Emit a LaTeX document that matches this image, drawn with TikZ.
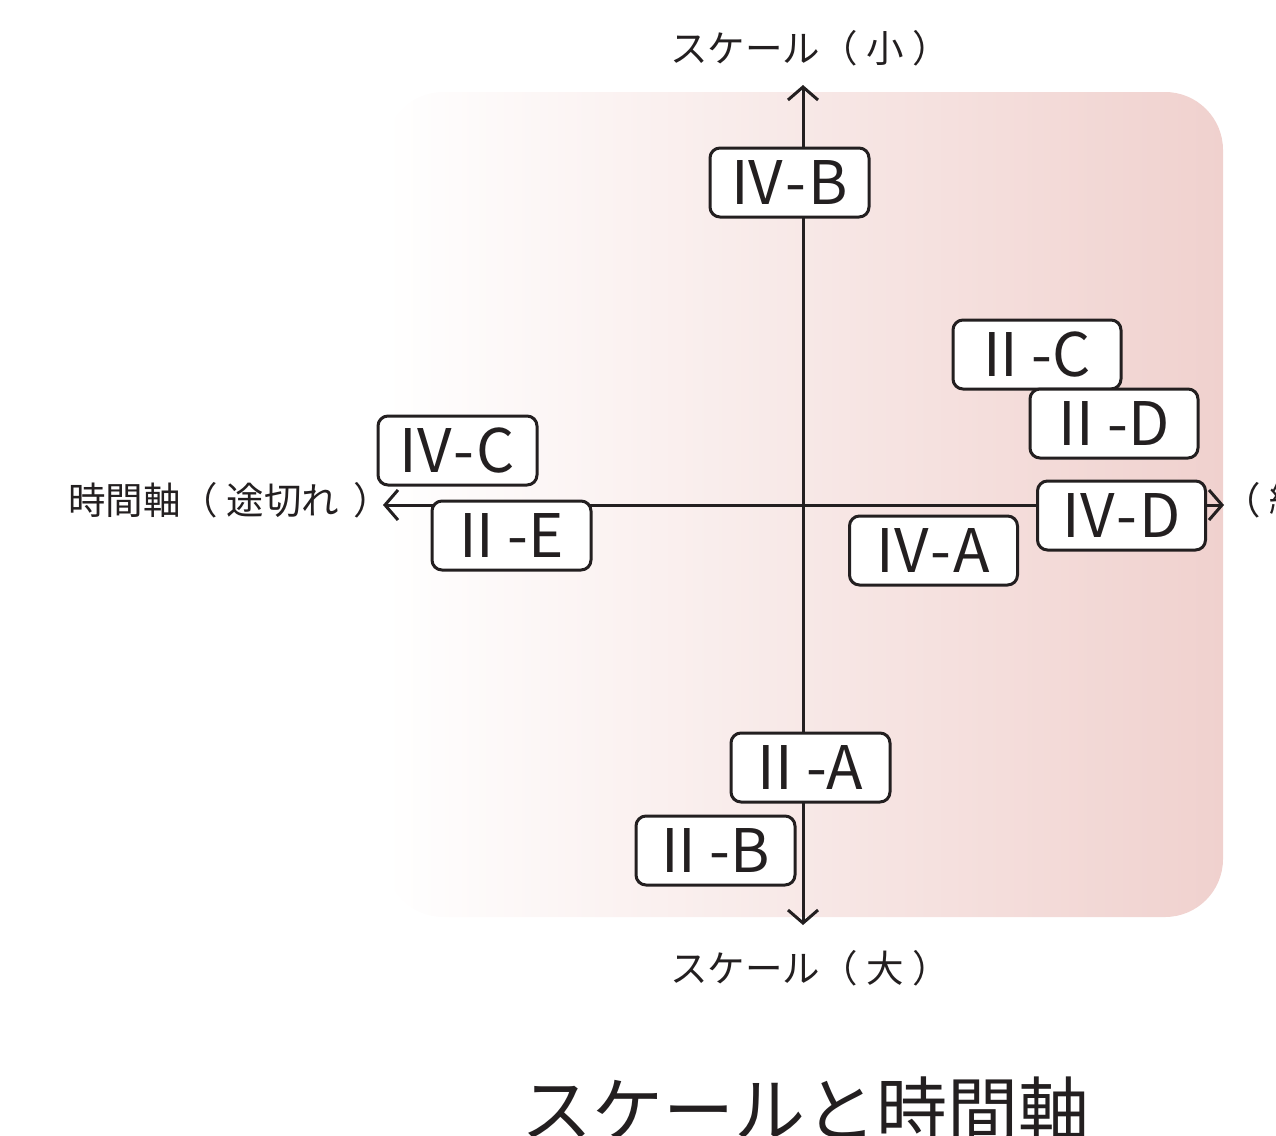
\documentclass[tikz,border=0pt]{standalone}
\usepackage{fontspec}
\newfontfamily\jp{Noto Sans CJK JP}
\usetikzlibrary{arrows.meta}
\definecolor{ink}{HTML}{231F20}
\definecolor{rose}{HTML}{F0D1CE}
\begin{document}
\begin{tikzpicture}[x=1pt,y=-1pt,
  tag/.style={draw=ink, line width=3pt, fill=white, rounded corners=10pt,
    minimum height=69pt, minimum width=159pt, inner sep=0pt, text=ink,
    font=\jp\fontsize{60}{60}\selectfont},
  wide/.style={minimum width=168pt},
  barb/.tip={Straight Barb[length=13pt,width=30pt,line width=3pt]},
  axis/.style={draw=ink, line width=3pt, barb-barb},
  lab/.style={text=ink, inner sep=0pt, anchor=west, font=\jp\fontsize{37.5}{37.5}\selectfont},
  ttl/.style={text=ink, inner sep=0pt, font=\jp\fontsize{71}{71}\selectfont}]
\useasboundingbox (0,0) rectangle (1276,1135);
% background
\shade[left color=white, right color=rose, rounded corners=58pt]
  (385,92) rectangle (1223,917);
% axes
\coordinate (top) at (803,85);
\coordinate (bot) at (803,925);
\coordinate (lft) at (383,505);
\coordinate (rgt) at (1224,505);
\draw[axis] (bot) -- (top);
\draw[axis] (lft) -- (rgt);
% axis labels
\node[lab] (small) at (670,48) {スケール（ 小 ）};
\node[lab] (large) at (670,968) {スケール（ 大 ）};
\node[lab] (cut) at (68,500) {時間軸（ 途切れ\kern6pt{} ）};
\node[lab] (cont) at (1223,500) {（ 継続 ）};
% tags
\newcommand\dsh{\kern2pt-\kern2pt}
\node[tag] (ivb) at (789.5,182.5) {IV\dsh B};
\node[tag, wide] (iic) at (1037,354.5) {II -C};
\node[tag, wide] (iid) at (1114,423.5) {II -D};
\node[tag] (ivc) at (457.5,450.5) {IV\dsh C};
\node[tag] (iie) at (511.5,535.5) {II -E};
\node[tag, wide] (ivd) at (1121.5,515.5) {IV\dsh D};
\node[tag, wide] (iva) at (933.5,550.5) {IV\dsh A};
\node[tag] (iia) at (810.5,767.5) {II -A};
\node[tag] (iib) at (715.5,850.5) {II -B};
% title
\node[ttl] (title) at (805,1110) {スケールと時間軸};
\end{tikzpicture}
\end{document}
